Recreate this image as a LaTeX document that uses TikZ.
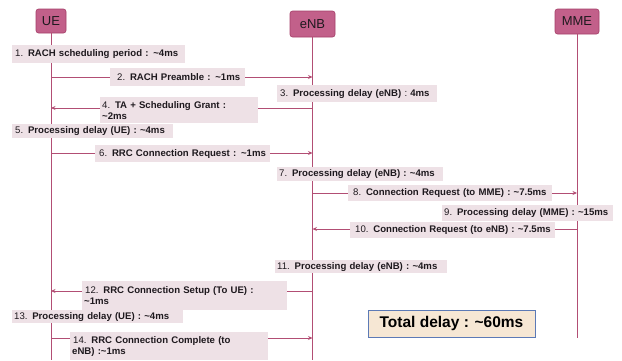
\documentclass[tikz,border=0pt]{standalone}
\usepackage{fontspec}
\setmainfont{Liberation Sans}
\usetikzlibrary{arrows.meta}
\definecolor{hdrfill}{RGB}{194,96,138}
\definecolor{hdrline}{RGB}{165,62,104}
\definecolor{lifeln}{RGB}{178,78,116}
\definecolor{lblfill}{RGB}{238,225,230}
\definecolor{totfill}{RGB}{246,231,212}
\definecolor{totline}{RGB}{92,122,182}
\definecolor{txt}{RGB}{30,25,30}
\tikzset{
  hdr/.style={draw=hdrline, fill=hdrfill, rounded corners=2.5pt, line width=0.6pt,
    text=txt, font=\fontsize{13}{14}\selectfont, inner sep=0pt},
  life/.style={draw=lifeln, line width=0.8pt},
  msg/.style={draw=lifeln, line width=0.8pt, -{Stealth[length=4.5pt,width=4pt]}},
  lbl/.style={fill=lblfill, anchor=north west, inner xsep=2pt, inner ysep=1pt,
    font=\fontsize{9.6}{10.8}\selectfont, text=txt, align=left},
  tot/.style={draw=totline, fill=totfill, line width=1pt, text=black,
    font=\bfseries\fontsize{15.5}{17}\selectfont, inner sep=0pt}
}
\newcommand{\lblbox}[6]{% name, x1, y1, x2, y2, text
  \node[lbl, minimum width=#4pt-#2pt, minimum height=#5pt-#3pt, text width=#4pt-#2pt-4pt] (#1) at (#2,#3) {\mbox{}#6};}
\begin{document}
\begin{tikzpicture}[x=1pt,y=-1pt]
\useasboundingbox (0,0) rectangle (622,360);
% headers
\node[hdr, minimum width=30pt, minimum height=24pt] (ue) at (51,21) {UE};
\node[hdr, minimum width=45pt, minimum height=26pt] (enb) at (312.5,24) {eNB};
\node[hdr, minimum width=44pt, minimum height=25pt] (mme) at (577,21.5) {MME};
% lifeline ends
\coordinate (ueend) at (51,360);
\coordinate (enbend) at (312.5,360);
\coordinate (mmeend) at (577,338);
\draw[life] (ue.south) -- (ueend);
\draw[life] (enb.south) -- (enbend);
\draw[life] (mme.south) -- (mmeend);
% message anchor points
\foreach \n/\y in {a/77, b/108, c/153, d/193, e/229, f/291, g/338}{
  \coordinate (ue\n) at (51,\y);
  \coordinate (enb\n) at (312.5,\y);
  \coordinate (mme\n) at (577,\y);
}
\draw[msg] (uea) -- (enba);
\draw[msg] (enbb) -- (ueb);
\draw[msg] (uec) -- (enbc);
\draw[msg] (enbd) -- (mmed);
\draw[msg] (mmee) -- (enbe);
\draw[msg] (enbf) -- (uef);
\draw[msg] (ueg) -- (enbg);
% labels
\lblbox{l1}{12}{45}{185}{63}{\hspace*{1pt}1. \textbf{RACH scheduling period : \textasciitilde4ms}}
\lblbox{l2}{110}{68}{245}{86}{\hspace*{5pt}2. \textbf{RACH Preamble : \textasciitilde1ms}}
\lblbox{l3}{277}{85}{437}{102}{\hspace*{1pt}3. \textbf{Processing delay (eNB)} : \textbf{4ms}}
\lblbox{l4}{100}{97}{258}{123}{4. \textbf{TA + Scheduling Grant :}\\\textbf{\textasciitilde2ms}}
\lblbox{l5}{12}{124}{173}{138}{\hspace*{1pt}5. \textbf{Processing delay (UE) : \textasciitilde4ms}}
\lblbox{l6}{95}{145}{270}{162}{\hspace*{2pt}6. \textbf{RRC Connection Request : \textasciitilde1ms}}
\lblbox{l7}{277}{167}{443}{181}{7. \textbf{Processing delay (eNB) : \textasciitilde4ms}}
\lblbox{l8}{348}{185}{552}{201}{\hspace*{3pt}8. \textbf{Connection Request (to MME) : \textasciitilde7.5ms}}
\lblbox{l9}{442}{205}{613}{221}{9. \textbf{Processing delay (MME) : \textasciitilde15ms}}
\lblbox{l10}{350}{222}{555}{238}{\hspace*{3pt}10. \textbf{Connection Request (to eNB) : \textasciitilde7.5ms}}
\lblbox{l11}{275}{260}{447}{273}{11. \textbf{Processing delay (eNB) : \textasciitilde4ms}}
\lblbox{l12}{82}{281}{287}{310}{\hspace*{1pt}12. \textbf{RRC Connection Setup (To UE) :}\\\textbf{\textasciitilde1ms}}
\lblbox{l13}{12}{310}{183}{323}{13. \textbf{Processing delay (UE) : \textasciitilde4ms}}
\lblbox{l14}{70}{332}{268}{360}{\hspace*{1pt}14. \textbf{RRC Connection Complete (to}\\\textbf{eNB) :\textasciitilde1ms}}
% total
\node[tot, minimum width=167pt, minimum height=27pt] (total) at (451.5,323.5) {Total delay : \textasciitilde60ms};
\end{tikzpicture}
\end{document}
